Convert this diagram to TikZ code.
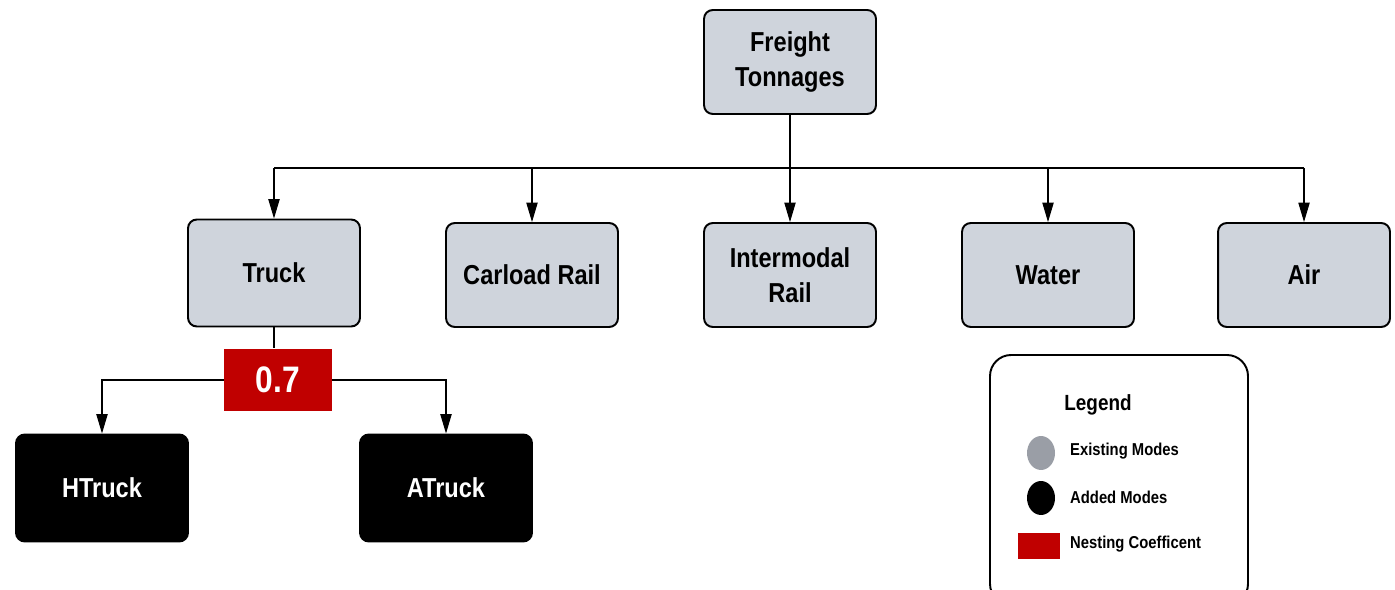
\documentclass[tikz,border=0pt]{standalone}
\usepackage{fontspec}
\setmainfont{Liberation Sans}[FakeStretch=0.86]
\usetikzlibrary{arrows.meta,shapes.geometric}

\tikzset{
  mode/.style={draw, line width=1.1pt, rounded corners=5pt, fill=boxgrey,
    minimum width=3.44cm, minimum height=2.08cm, align=center,
    font=\bfseries\fontsize{15.6}{20}\selectfont},
  added/.style={mode, fill=black, text=white, minimum height=2.14cm},
  coef/.style={fill=coefred, text=white, minimum width=2.16cm, minimum height=1.26cm,
    font=\bfseries\fontsize{21}{23}\selectfont},
  link/.style={line width=0.6pt},
  arr/.style={link, -{Triangle[length=11pt,width=6.4pt]}},
  leg/.style={anchor=west, font=\bfseries\fontsize{9.8}{11}\selectfont}
}
\definecolor{boxgrey}{HTML}{CFD4DC}
\definecolor{dotgrey}{HTML}{9A9EA6}
\definecolor{coefred}{HTML}{C00000}

\begin{document}
\begin{tikzpicture}[x=0.02cm, y=-0.02cm]
  \useasboundingbox (0,0) rectangle (1395,590);

  % top level and the five modes
  \node[mode] (ft) at (790,62) {Freight\\Tonnages};
  \node[mode, minimum height=2.14cm] (truck) at (274,273) {Truck};
  \node[mode] (rail) at (532,275) {Carload Rail};
  \node[mode] (inter) at (790,275) {Intermodal\\Rail};
  \node[mode] (water) at (1048,275) {Water};
  \node[mode] (air) at (1304,275) {Air};

  % truck split
  \node[coef] (nest) at (278,380) {0.7};
  \node[added] (htruck) at (102,488) {HTruck};
  \node[added] (atruck) at (446,488) {ATruck};

  % bus from the top box
  \coordinate (busl) at (274,168);
  \coordinate (busr) at (1304,168);
  \draw[link] (busl) -- (busr);
  \draw[arr] (ft.south) -- (inter.north);
  \foreach \m in {truck, rail, water, air}
    \draw[arr] (\m.north |- busl) -- (\m.north);

  \draw[link] (truck.south) -- (truck.south |- nest.north);
  \draw[arr] (nest.west) -| (htruck.north);
  \draw[arr] (nest.east) -| (atruck.north);

  % legend
  \draw[line width=1.1pt, rounded corners=12pt] (990,355) rectangle (1248,605);
  \node[font=\bfseries\fontsize{12.5}{14}\selectfont] (legtitle) at (1098,405) {Legend};
  \node[ellipse, fill=dotgrey, minimum width=0.56cm, minimum height=0.68cm, inner sep=0pt] (legexist) at (1041,453) {};
  \node[ellipse, fill=black, minimum width=0.56cm, minimum height=0.68cm, inner sep=0pt] (legadd) at (1041,498) {};
  \node[fill=coefred, minimum width=0.84cm, minimum height=0.54cm, inner sep=0pt] (legcoef) at (1039,546) {};
  \node[leg] at (1064,451) {Existing Modes};
  \node[leg] at (1064,497) {Added Modes};
  \node[leg] at (1064,544) {Nesting Coefficent};
\end{tikzpicture}
\end{document}
